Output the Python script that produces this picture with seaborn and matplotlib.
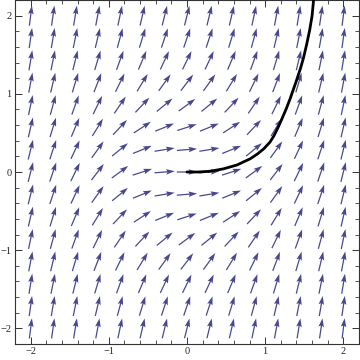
import numpy as np
import pandas as pd
import matplotlib
matplotlib.use("Agg")
import matplotlib.pyplot as plt
import seaborn as sns

# grid of arrow positions (15 x 15, VectorPlot default)
grid_x = [-2.0, -1.714, -1.429, -1.143, -0.857, -0.571, -0.286, 0.0,
          0.286, 0.571, 0.857, 1.143, 1.429, 1.714, 2.0]
grid_y = list(grid_x)

# stream curve (starts at origin)
curve_x = [0.0, 0.15, 0.30, 0.465, 0.64, 0.81, 0.90, 0.98, 1.06, 1.11, 1.16,
           1.21, 1.27, 1.32, 1.39, 1.45, 1.49, 1.53, 1.57, 1.60, 1.62]
curve_y = [0.0, 0.0, 0.01, 0.04, 0.09, 0.17, 0.23, 0.295, 0.38, 0.46, 0.56,
           0.67, 0.81, 0.94, 1.14, 1.32, 1.46, 1.63, 1.82, 2.0, 2.21]

major_ticks = [-2, -1, 0, 1, 2]
tick_labels = ["\u22122", "\u22121", "0", "1", "2"]

sns.set_style("ticks")
plt.rcParams['font.family'] = ['Liberation Serif', 'DejaVu Serif']

fig = plt.figure(figsize=(3.6, 3.6), dpi=100)
ax = fig.add_axes([15/360, 16/360, 344/360, 344/360])

# direction field dy/dx = x^2 + y^2, arrows normalised
X, Y = np.meshgrid(grid_x, grid_y)
U = np.ones_like(X)
V = X**2 + Y**2
N = np.hypot(U, V)
U, V = U / N, V / N
L = 0.26
ax.quiver(X, Y, U * L, V * L, angles='xy', scale_units='xy', scale=1,
          pivot='middle', color='#48488f', width=0.0036,
          headwidth=4.5, headlength=7, headaxislength=6, zorder=2)

df = pd.DataFrame({"x": curve_x, "y": curve_y})
sns.lineplot(data=df, x="x", y="y", sort=False, color='black', linewidth=2.0,
             ax=ax, zorder=3)
ax.lines[-1].set_solid_joinstyle('round')

ax.set_xlim(-2.2, 2.2)
ax.set_ylim(-2.2, 2.2)
ax.set_xlabel("")
ax.set_ylabel("")
ax.set_xticks(major_ticks)
ax.set_xticklabels(tick_labels)
ax.set_yticks(major_ticks)
ax.set_yticklabels(tick_labels)
minor = [v / 10 for v in range(-22, 23, 2) if v % 10 != 0]
ax.set_xticks(minor, minor=True)
ax.set_yticks(minor, minor=True)
ax.tick_params(which='both', direction='in', top=True, right=True,
               labelsize=7.5, pad=2.5, color='#333333')
ax.tick_params(which='major', length=5, width=0.7)
ax.tick_params(which='minor', length=2.8, width=0.6)
for s in ax.spines.values():
    s.set_visible(True)
    s.set_linewidth(0.8)
    s.set_color('#333333')

fig.savefig("out.png", dpi=100)
